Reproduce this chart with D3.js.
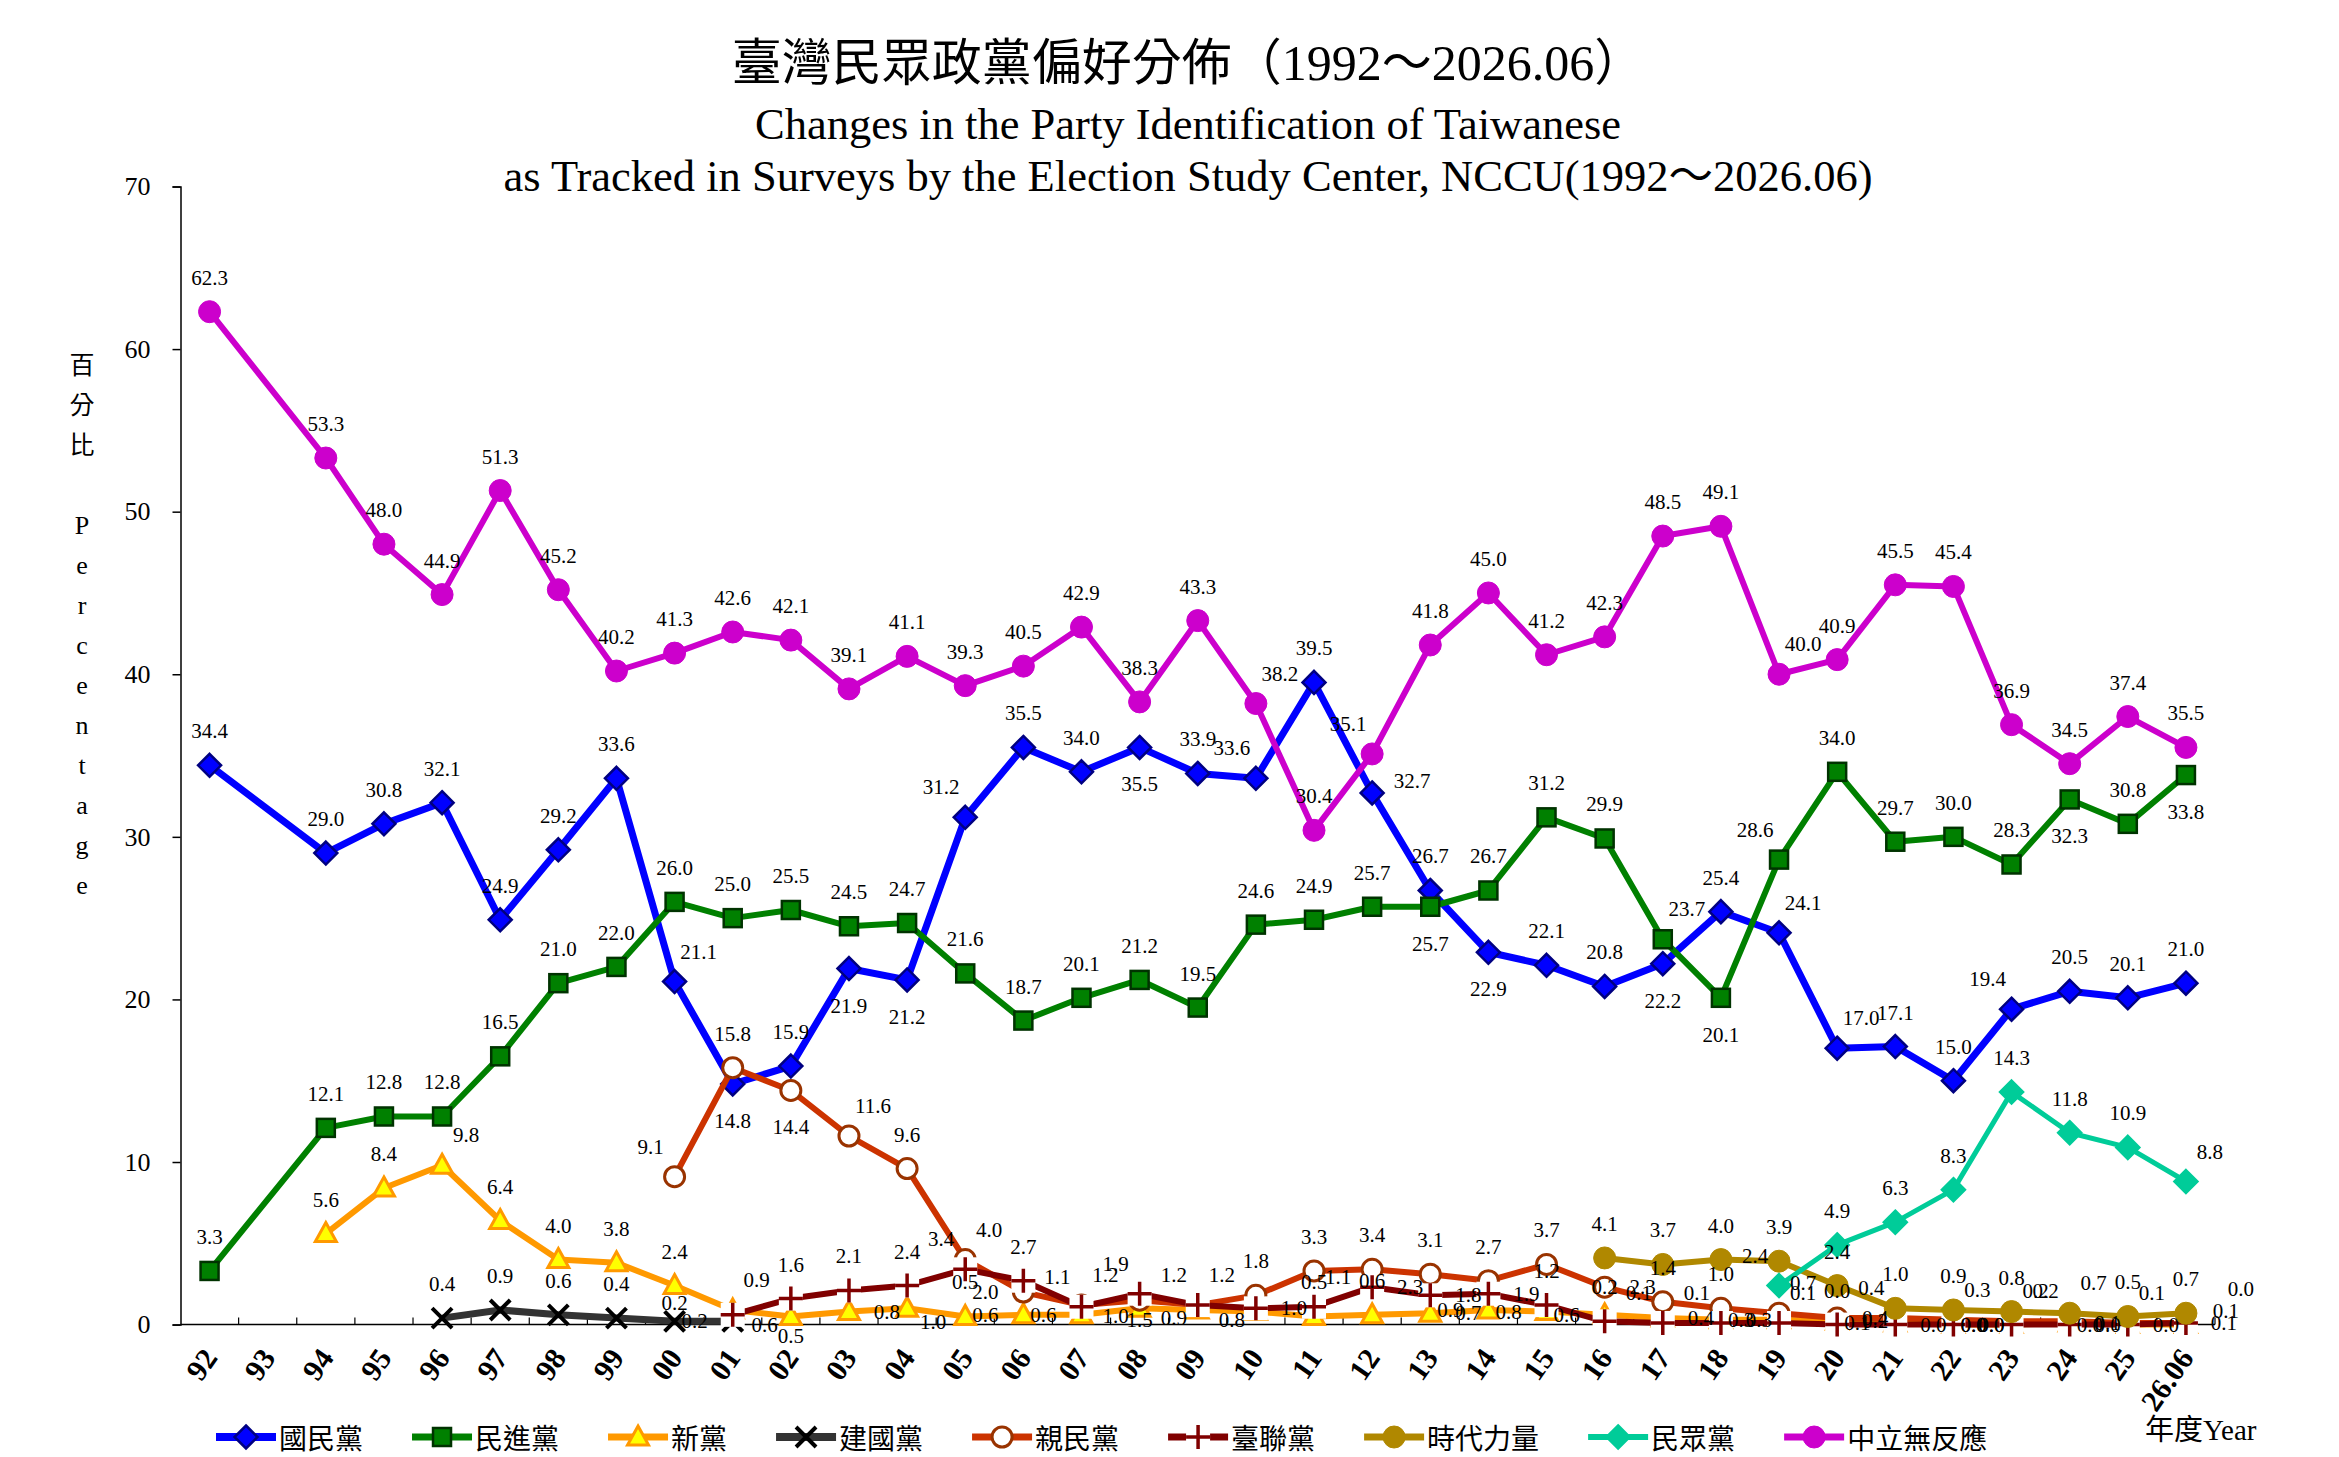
<!DOCTYPE html>
<html>
<head>
<meta charset="utf-8">
<script src="https://cdn.jsdelivr.net/npm/d3@7"></script>
<style>
  body { margin: 0; background: #fff; }
  svg { display: block; }
  text { font-family: "Liberation Serif", "Times New Roman", "Noto Sans CJK TC", serif; fill: #000; }
</style>
</head>
<body>
<svg id="chart" width="2339" height="1457"></svg>
<script>
// Survey years (93 has no survey)
const years = ['92','93','94','95','96','97','98','99','00','01','02','03','04','05','06','07','08','09',
  '10','11','12','13','14','15','16','17','18','19','20','21','22','23','24','25','26.06'];

const kmt = [34.4,null,29.0,30.8,32.1,24.9,29.2,33.6,21.1,14.8,15.9,21.9,21.2,31.2,35.5,34.0,35.5,33.9,
  33.6,39.5,32.7,26.7,22.9,22.1,20.8,22.2,25.4,24.1,17.0,17.1,15.0,19.4,20.5,20.1,21.0];
const dpp = [3.3,null,12.1,12.8,12.8,16.5,21.0,22.0,26.0,25.0,25.5,24.5,24.7,21.6,18.7,20.1,21.2,19.5,
  24.6,24.9,25.7,25.7,26.7,31.2,29.9,23.7,20.1,28.6,34.0,29.7,30.0,28.3,32.3,30.8,33.8];
const np = [null,null,5.6,8.4,9.8,6.4,4.0,3.8,2.4,0.9,0.5,0.8,1.0,0.5,0.6,0.6,1.0,0.9,
  0.8,0.5,0.6,0.7,0.9,0.8,0.6,0.4,0.3,0.3,0.2,0.1,0.0,0.0,0.1,0.0,0.0];
const tip = [null,null,null,null,0.4,0.9,0.6,0.4,0.2,0.2,null,null,null,null,null,null,null,null,
  null,null,null,null,null,null,null,null,null,null,null,null,null,null,null,null,null];
const pfp = [null,null,null,null,null,null,null,null,9.1,15.8,14.4,11.6,9.6,4.0,2.0,1.2,1.5,1.2,
  1.8,3.3,3.4,3.1,2.7,3.7,2.3,1.4,1.0,0.7,0.4,0.4,0.3,0.2,0.2,0.1,0.1];
const tsu = [null,null,null,null,null,null,null,null,null,0.6,1.6,2.1,2.4,3.4,2.7,1.1,1.9,1.2,
  1.0,1.1,2.3,1.8,1.9,1.2,0.2,0.1,0.1,0.1,0.0,0.0,0.0,0.0,0.0,0.0,0.1];
const npp = [null,null,null,null,null,null,null,null,null,null,null,null,null,null,null,null,null,null,
  null,null,null,null,null,null,4.1,3.7,4.0,3.9,2.4,1.0,0.9,0.8,0.7,0.5,0.7];
const tpp = [null,null,null,null,null,null,null,null,null,null,null,null,null,null,null,null,null,null,
  null,null,null,null,null,null,null,null,null,2.4,4.9,6.3,8.3,14.3,11.8,10.9,8.8];
const neutral = [62.3,null,53.3,48.0,44.9,51.3,45.2,40.2,41.3,42.6,42.1,39.1,41.1,39.3,40.5,42.9,38.3,43.3,
  38.2,30.4,35.1,41.8,45.0,41.2,42.3,48.5,49.1,40.0,40.9,45.5,45.4,36.9,34.5,37.4,35.5];

const yTicks = [0,10,20,30,40,50,60,70];

// label placement codes per point (default 't' = above)
const series = [
  { name: '國民黨', values: kmt, color: '#0000ff', width: 7, marker: 'diamond', fill: '#0000ff', stroke: '#000080',
    pos: {'00':'tr','01':'b','03':'b','04':'b','05':'tl','08':'b','10':'tl','12':'rt','14':'b','17':'b','19':'tr','20':'tr','23':'tl'} },
  { name: '民進黨', values: dpp, color: '#008000', width: 6, marker: 'square', fill: '#008000', stroke: '#003300',
    pos: {'13':'b','18':'b','19':'tl','17':'tr','24':'b','26.06':'b'} },
  { name: '新黨', values: np, color: '#ff9900', width: 6, marker: 'triangle', fill: '#ffff00', stroke: '#ff9900',
    pos: {'96':'tr','01':'tr','02':'bn','03':'r','04':'brn','06':'l','07':'l','08':'ln','09':'ln','10':'ln','13':'r','14':'l','15':'l','16':'l','17':'r','18':'r','19':'l','20':'r','21':'l','22':'r','23':'l','24':'r','25':'l','26.06':'rf'} },
  { name: '建國黨', values: tip, color: '#333333', width: 7, marker: 'x', fill: 'none', stroke: '#000000',
    pos: {'00':'n','01':'l'} },
  { name: '親民黨', values: pfp, color: '#cc3300', width: 6, marker: 'circle', fill: '#ffffff', stroke: '#993300',
    pos: {'00':'tl','02':'b','03':'tr','05':'tr','06':'l','07':'tr','08':'bn','09':'tl','16':'r','19':'tr','20':'r','21':'tl','22':'tr','23':'tr','24':'tl','25':'tr','26.06':'rt'} },
  { name: '臺聯黨', values: tsu, color: '#800000', width: 6, marker: 'plus', fill: '#ffffff', stroke: '#800000',
    pos: {'01':'rn','05':'tl','07':'tl','08':'tl','09':'tr','10':'r','11':'tr','12':'r','13':'r','14':'r','17':'tl','18':'tl','19':'tr','20':'t','21':'r','22':'r','23':'l','24':'r','25':'r','26.06':'r'} },
  { name: '時代力量', values: npp, color: '#b08800', width: 6, marker: 'circle', fill: '#b08800', stroke: '#b08800',
    pos: {'24':'tr'} },
  { name: '民眾黨', values: tpp, color: '#00cc99', width: 5, marker: 'diamond', fill: '#00cc99', stroke: '#00cc99',
    pos: {'19':'tl','26.06':'tr'} },
  { name: '中立無反應', values: neutral, color: '#cc00cc', width: 6, marker: 'circle', fill: '#cc00cc', stroke: '#cc00cc',
    pos: {'10':'tr','12':'tl','19':'tr'} }
];

const svg = d3.select('#chart');
const plotLeft = 180.5, plotRight = 2215, plotTop = 186.5, plotBottom = 1324.6;

const x = d3.scaleBand().domain(years).range([plotLeft, plotRight]).padding(0);
const y = d3.scaleLinear().domain([0, 70]).range([plotBottom, plotTop]);
const cx = d => x(d) + x.bandwidth() / 2;

// Titles
svg.append('text').attr('x', 1188).attr('y', 63).attr('text-anchor', 'middle')
  .attr('dominant-baseline', 'central').attr('font-size', 50)
  .text('臺灣民眾政黨偏好分佈（1992～2026.06）');
svg.append('text').attr('x', 1188).attr('y', 124).attr('text-anchor', 'middle')
  .attr('dominant-baseline', 'central').attr('font-size', 44.5)
  .text('Changes in the Party Identification of Taiwanese');
svg.append('text').attr('x', 1188).attr('y', 176).attr('text-anchor', 'middle')
  .attr('dominant-baseline', 'central').attr('font-size', 44.5)
  .text('as Tracked in Surveys by the Election Study Center, NCCU(1992～2026.06)');

// Y axis
const yAxis = d3.axisLeft(y).tickValues(yTicks).tickSize(8).tickPadding(22).tickFormat(d3.format('d'));
const yG = svg.append('g').attr('transform', `translate(${plotLeft},0)`).call(yAxis);
yG.select('.domain').attr('stroke', '#000').attr('stroke-width', 1.5);
yG.selectAll('.tick line').attr('stroke', '#000').attr('stroke-width', 1.5);
yG.selectAll('.tick text').attr('font-size', 26).attr('font-family', '"Liberation Serif", serif');

// Y title stacked vertically
const yTitle = ['百','分','比',' ','P','e','r','c','e','n','t','a','g','e'];
svg.append('g').selectAll('text').data(yTitle).enter().append('text')
  .attr('x', 82).attr('y', (d, i) => 365 + i * 40)
  .attr('text-anchor', 'middle').attr('dominant-baseline', 'central')
  .attr('font-size', (d, i) => i < 3 ? 25 : 26).text(d => d);

// X axis: baseline plus inside tick marks at band edges
svg.append('line').attr('x1', plotLeft).attr('x2', plotRight).attr('y1', plotBottom).attr('y2', plotBottom)
  .attr('stroke', '#000').attr('stroke-width', 1.5);
svg.append('g').selectAll('line').data(years.slice(1)).enter().append('line')
  .attr('x1', d => x(d)).attr('x2', d => x(d))
  .attr('y1', plotBottom).attr('y2', plotBottom - 7)
  .attr('stroke', '#000').attr('stroke-width', 1.2);
svg.append('line').attr('x1', plotRight).attr('x2', plotRight).attr('y1', plotBottom).attr('y2', plotBottom - 7)
  .attr('stroke', '#000').attr('stroke-width', 1.2);

svg.append('g').selectAll('text').data(years).enter().append('text')
  .attr('transform', d => `translate(${cx(d) + 9},${1358}) rotate(-55)`)
  .attr('text-anchor', 'end').attr('font-size', 30).attr('font-weight', 'bold')
  .text(d => d);

svg.append('text').attr('x', 2145).attr('y', 1430).attr('dominant-baseline', 'central')
  .attr('font-size', 29).text('年度Year');

// Marker drawing
function drawMarker(g, s, px, py) {
  if (s.marker === 'diamond') {
    const h = 11.5;
    g.append('path').attr('d', `M${px},${py - h}L${px + h},${py}L${px},${py + h}L${px - h},${py}Z`)
      .attr('fill', s.fill).attr('stroke', s.stroke).attr('stroke-width', 2.5);
  } else if (s.marker === 'square') {
    g.append('rect').attr('x', px - 9).attr('y', py - 9).attr('width', 18).attr('height', 18)
      .attr('fill', s.fill).attr('stroke', s.stroke).attr('stroke-width', 2.5);
  } else if (s.marker === 'triangle') {
    g.append('path').attr('d', `M${px},${py - 11}L${px + 10.5},${py + 8}L${px - 10.5},${py + 8}Z`)
      .attr('fill', s.fill).attr('stroke', s.stroke).attr('stroke-width', 3).attr('stroke-linejoin', 'miter');
  } else if (s.marker === 'circle') {
    g.append('circle').attr('cx', px).attr('cy', py).attr('r', s.fill === '#ffffff' ? 10 : 11)
      .attr('fill', s.fill).attr('stroke', s.stroke).attr('stroke-width', s.fill === '#ffffff' ? 3 : 1);
  } else if (s.marker === 'x') {
    const h = 10;
    g.append('path').attr('d', `M${px - h},${py - h}L${px + h},${py + h}M${px + h},${py - h}L${px - h},${py + h}`)
      .attr('stroke', s.stroke).attr('stroke-width', 4).attr('fill', 'none');
  } else if (s.marker === 'plus') {
    const h = 12;
    g.append('rect').attr('x', px - h).attr('y', py - h).attr('width', 2 * h).attr('height', 2 * h)
      .attr('fill', '#ffffff');
    g.append('path').attr('d', `M${px - h},${py}L${px + h},${py}M${px},${py - h}L${px},${py + h}`)
      .attr('stroke', s.stroke).attr('stroke-width', 3.5).attr('fill', 'none');
  }
}

const off = { t: [0, -34], n: [0, -18], b: [0, 37], bn: [0, 20], tr: [24, -30], tl: [-24, -30],
  br: [26, 30], brn: [26, 14], bl: [-26, 30], r: [38, 0], rn: [32, 10], rt: [40, -12], rf: [55, -36],
  l: [-38, 0], ln: [-24, 8] };

const line = d3.line().x(d => cx(d.year)).y(d => y(d.v));

const plot = svg.append('g');
const labelLayer = svg.append('g');

series.forEach(s => {
  const pts = s.values.map((v, i) => ({ year: years[i], v })).filter(d => d.v !== null);
  const g = plot.append('g');
  g.append('path').datum(pts).attr('d', line)
    .attr('fill', 'none').attr('stroke', s.color).attr('stroke-width', s.width)
    .attr('stroke-linejoin', 'round');
  pts.forEach(d => drawMarker(g, s, cx(d.year), y(d.v)));
  pts.forEach(d => {
    const o = off[s.pos[d.year] || 't'];
    labelLayer.append('text')
      .attr('x', cx(d.year) + o[0]).attr('y', y(d.v) + o[1])
      .attr('text-anchor', 'middle').attr('dominant-baseline', 'central')
      .attr('font-size', 21)
      .text(d.v.toFixed(1));
  });
});

// Legend
const legend = svg.append('g');
let lx = 216;
const ly = 1437;
series.forEach(s => {
  const g = legend.append('g');
  g.append('line').attr('x1', lx).attr('x2', lx + 60).attr('y1', ly).attr('y2', ly)
    .attr('stroke', s.color).attr('stroke-width', s.width + 1);
  drawMarker(g, s, lx + 30, ly);
  const t = g.append('text').attr('x', lx + 63).attr('y', ly + 2).attr('dominant-baseline', 'central')
    .attr('font-size', 28).attr('font-family', '"Noto Sans CJK TC", sans-serif').text(s.name);
  lx += 63 + t.node().getComputedTextLength() + 49;
});
</script>
</body>
</html>
